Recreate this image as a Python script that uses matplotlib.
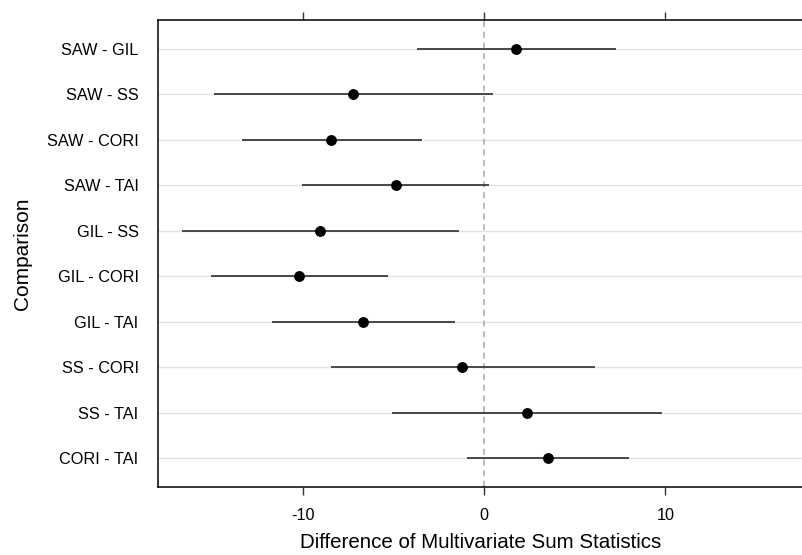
import numpy as np
import matplotlib.pyplot as plt

plt.rcParams['font.family'] = ['Liberation Sans', 'DejaVu Sans']

# comparisons, top to bottom
comparisons = ['SAW - GIL', 'SAW - SS', 'SAW - CORI', 'SAW - TAI', 'GIL - SS',
               'GIL - CORI', 'GIL - TAI', 'SS - CORI', 'SS - TAI', 'CORI - TAI']
estimate = [1.76, -7.24, -8.44, -4.89, -9.05, -10.2, -6.66, -1.2, 2.35, 3.53]
lower = [-3.68, -14.93, -13.35, -10.04, -16.67, -15.06, -11.71, -8.48, -5.09, -0.96]
upper = [7.28, 0.48, -3.44, 0.29, -1.36, -5.33, -1.6, 6.12, 9.84, 8.02]
xticks = [-10, 0, 10]

fig = plt.figure(figsize=(8.03, 5.55), dpi=100)
ax = fig.add_axes([0.1968, 0.1225, 0.8032, 0.8415])

y = np.arange(1, len(comparisons) + 1)

# light horizontal grid at each comparison
for yi in y:
    ax.axhline(yi, color='#e3e3e3', lw=1.0, zorder=0)

ax.axvline(0, color='#a8a8a8', lw=1.1, ls=(0, (4, 3)), zorder=1)

ax.hlines(y, lower, upper, color='#3a3a3a', lw=1.3, zorder=2)
ax.plot(estimate, y, 'o', color='black', ms=6.8, zorder=3)

ax.set_xlim(-18, 17.6)
ax.set_ylim(10.63, 0.37)
ax.set_yticks(y)
ax.set_yticklabels(comparisons, fontsize=11.7)
ax.set_xticks(xticks)
ax.set_xticklabels([str(t) for t in xticks], fontsize=11.7)

ax.tick_params(axis='y', length=0, pad=14)
ax.tick_params(axis='x', length=6, width=1, color='#333333', direction='out',
               top=True, pad=9)

for side in ['left', 'top', 'bottom']:
    ax.spines[side].set_color('black')
    ax.spines[side].set_linewidth(1.1)
ax.spines['right'].set_visible(False)

ax.set_xlabel('Difference of Multivariate Sum Statistics', fontsize=14.8, labelpad=7)
ax.set_ylabel('Comparison', fontsize=15, labelpad=11)

fig.savefig('out.png', dpi=100)
